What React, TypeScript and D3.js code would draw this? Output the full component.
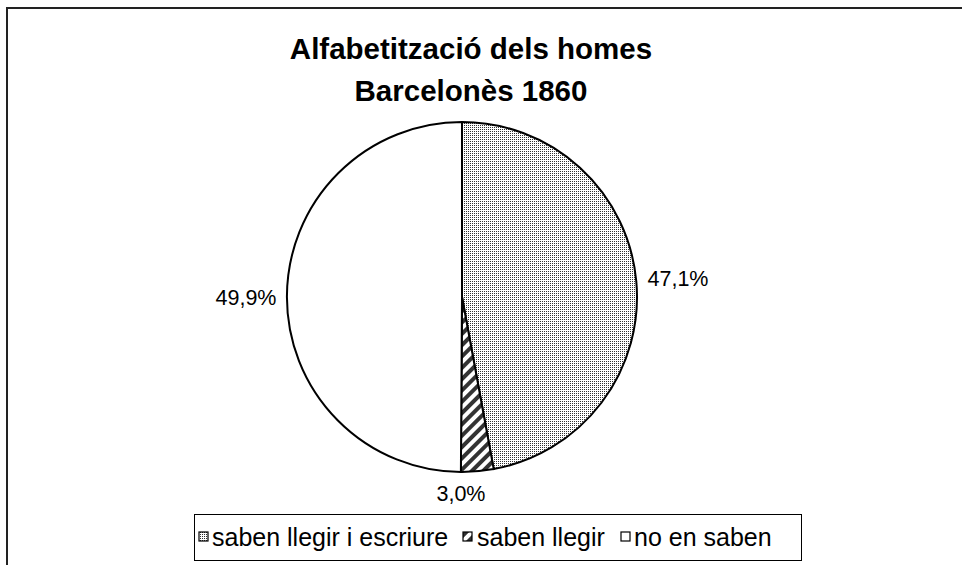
import React from "react";
import * as d3 from "d3";

const categories = ["saben llegir i escriure", "saben llegir", "no en saben"];
const values = [47.1, 3.0, 49.9];
const labels = ["47,1%", "3,0%", "49,9%"];
const titleLines = ["Alfabetització dels homes", "Barcelonès 1860"];

const W = 962;
const H = 565;
const cx = 462;
const cy = 297;
const R = 175;
const fills = ["url(#stipple)", "url(#hatch)", "#ffffff"];
const font = "'Liberation Sans', Arial, sans-serif";

export default function App() {
  const pie = d3.pie<number>().sort(null).value((d) => d)(values);
  const arc = d3.arc<d3.PieArcDatum<number>>().innerRadius(0).outerRadius(R);
  const labelPos = [
    [678, 286],
    [461, 501],
    [246, 305],
  ];
  const legendItems = [
    { x: 199, tx: 212 },
    { x: 463, tx: 477 },
    { x: 621, tx: 634 },
  ];
  return (
    <svg
      width={W}
      height={H}
      style={{ position: "absolute", left: 0, top: 0, background: "#fff" }}
    >
      <defs>
        <pattern id="stipple" patternUnits="userSpaceOnUse" width={2} height={2}>
          <rect width={2} height={2} fill="#fff" />
          <rect x={0} y={0} width={1} height={1} fill="#333" />
        </pattern>
        <pattern
          id="hatch"
          patternUnits="userSpaceOnUse"
          width={8}
          height={8}
          patternTransform="rotate(45)"
        >
          <rect width={8} height={8} fill="#fff" />
          <rect x={0} y={0} width={4} height={8} fill="#333" />
        </pattern>
      </defs>
      <rect x={7} y={8} width={1000} height={600} fill="#fff" stroke="#222" strokeWidth={2} />
      <text x={471} y={59} textAnchor="middle" fontFamily={font} fontWeight="bold" fontSize={29.5}>
        {titleLines[0]}
      </text>
      <text x={471} y={101} textAnchor="middle" fontFamily={font} fontWeight="bold" fontSize={29.5}>
        {titleLines[1]}
      </text>
      <g transform={`translate(${cx},${cy})`}>
        {pie.map((p, i) => (
          <path key={i} d={arc(p) || ""} fill={fills[i]} stroke="#000" strokeWidth={2} />
        ))}
      </g>
      {labels.map((l, i) => (
        <text
          key={i}
          x={labelPos[i][0]}
          y={labelPos[i][1]}
          textAnchor="middle"
          fontFamily={font}
          fontSize={21.5}
        >
          {l}
        </text>
      ))}
      <rect x={194.5} y={514.5} width={607} height={46} fill="#fff" stroke="#000" strokeWidth={1} />
      {categories.map((c, i) => (
        <g key={i}>
          <rect
            x={legendItems[i].x}
            y={532}
            width={9}
            height={9}
            fill={fills[i]}
            stroke="#000"
            strokeWidth={1.2}
          />
          <text x={legendItems[i].tx} y={546} fontFamily={font} fontSize={25}>
            {c}
          </text>
        </g>
      ))}
    </svg>
  );
}
